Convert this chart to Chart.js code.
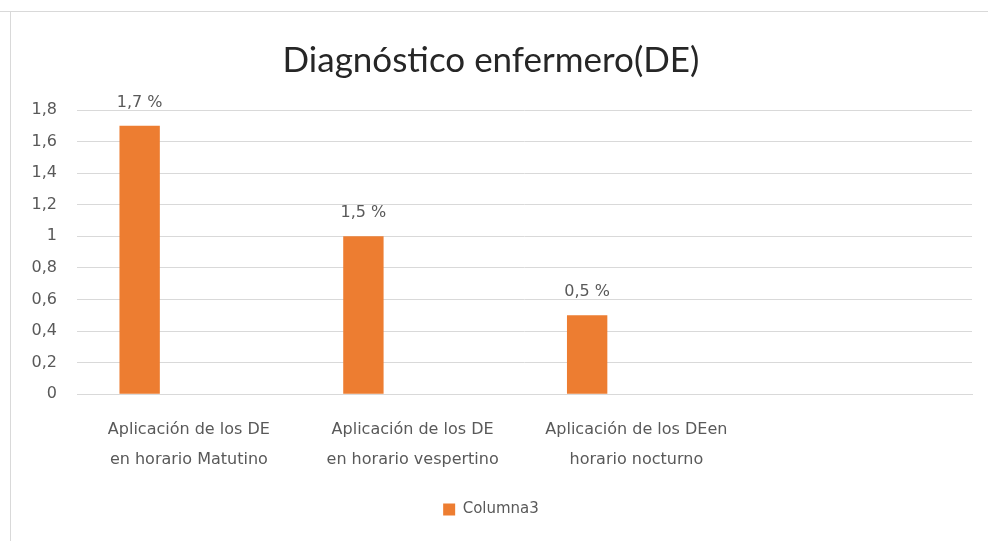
<!DOCTYPE html>
<html lang="es">
<head>
<meta charset="UTF-8">
<title>Diagnóstico enfermero(DE)</title>
<script src="https://cdn.jsdelivr.net/npm/chart.js"></script>
<style>
  html, body { margin: 0; padding: 0; background: #fff; }
  #wrap { width: 988px; height: 541px; }
</style>
</head>
<body>
<div id="wrap"><canvas id="chart"></canvas></div>
<script>
// datos
const categories = [
  ['Aplicación de los DE', 'en horario Matutino'],
  ['Aplicación de los DE', 'en horario vespertino'],
  ['Aplicación de los DEen', 'horario nocturno'],
  ''
];
const columna3 = [1.7, 1, 0.5, null];
const columna3Labels = ['1,7 %', '1,5 %', '0,5 %', ''];
// columnas vacías de la tabla original (ocupan sitio en el grupo)
const columna1 = [null, null, null, null];
const columna2 = [null, null, null, null];
const yTicks = { min: 0, max: 1.8, step: 0.2 };

const grey = '#595959';
const orange = '#ed7d31';
const tickFont = '"DejaVu Sans", sans-serif';

// marco de la imagen (bordes arriba e izquierda)
const framePlugin = {
  id: 'frame',
  beforeDraw(chart) {
    const ctx = chart.ctx;
    ctx.save();
    ctx.fillStyle = '#fff';
    ctx.fillRect(0, 0, chart.width, chart.height);
    ctx.strokeStyle = '#d9d9d9';
    ctx.lineWidth = 1;
    ctx.beginPath();
    ctx.moveTo(0, 11.5); ctx.lineTo(chart.width, 11.5);
    ctx.moveTo(10.5, 11); ctx.lineTo(10.5, chart.height);
    ctx.stroke();
    ctx.restore();
  }
};

// etiquetas encima de las barras
const barLabels = {
  id: 'barLabels',
  afterDatasetsDraw(chart) {
    const ctx = chart.ctx;
    const meta = chart.getDatasetMeta(0);
    ctx.save();
    ctx.font = '16px ' + tickFont;
    ctx.fillStyle = grey;
    ctx.textAlign = 'center';
    ctx.textBaseline = 'bottom';
    meta.data.forEach((bar, i) => {
      if (columna3[i] == null) return;
      ctx.fillText(columna3Labels[i], bar.x, bar.y - 15);
    });
    ctx.restore();
  }
};

new Chart(document.getElementById('chart'), {
  type: 'bar',
  data: {
    labels: categories,
    datasets: [
      { label: 'Columna3', data: columna3, backgroundColor: orange },
      { label: 'Columna1', data: columna1, backgroundColor: orange },
      { label: 'Columna2', data: columna2, backgroundColor: orange }
    ]
  },
  options: {
    responsive: true,
    maintainAspectRatio: false,
    animation: false,
    categoryPercentage: 0.66,
    barPercentage: 0.82,
    layout: { padding: { left: 10, right: 16, top: 30, bottom: 14 } },
    plugins: {
      title: {
        display: true,
        text: 'Diagnóstico enfermero(DE)',
        color: '#262626',
        font: { family: 'Lato, "Open Sans", sans-serif', size: 35, weight: 'normal' },
        padding: { top: 10, bottom: 28 }
      },
      legend: {
        position: 'bottom',
        labels: {
          filter: item => item.text === 'Columna3',
          boxWidth: 12,
          boxHeight: 12,
          padding: 10,
          color: grey,
          font: { family: tickFont, size: 15 }
        }
      },
      tooltip: { enabled: false }
    },
    scales: {
      x: {
        grid: { display: false },
        border: { color: '#d9d9d9' },
        afterFit(scale) { scale.height += 5; },
        ticks: {
          color: grey,
          maxRotation: 0,
          autoSkip: false,
          padding: 12,
          font: { family: tickFont, size: 16, lineHeight: 1.9 }
        }
      },
      y: {
        min: yTicks.min,
        max: yTicks.max,
        border: { display: false },
        grid: { color: '#d9d9d9', drawTicks: false },
        afterFit(scale) { scale.width = 67; },
        ticks: {
          stepSize: yTicks.step,
          color: grey,
          padding: 20,
          font: { family: tickFont, size: 16 },
          callback: v => String(Math.round(v * 10) / 10).replace('.', ',')
        }
      }
    }
  },
  plugins: [framePlugin, barLabels]
});
</script>
</body>
</html>
